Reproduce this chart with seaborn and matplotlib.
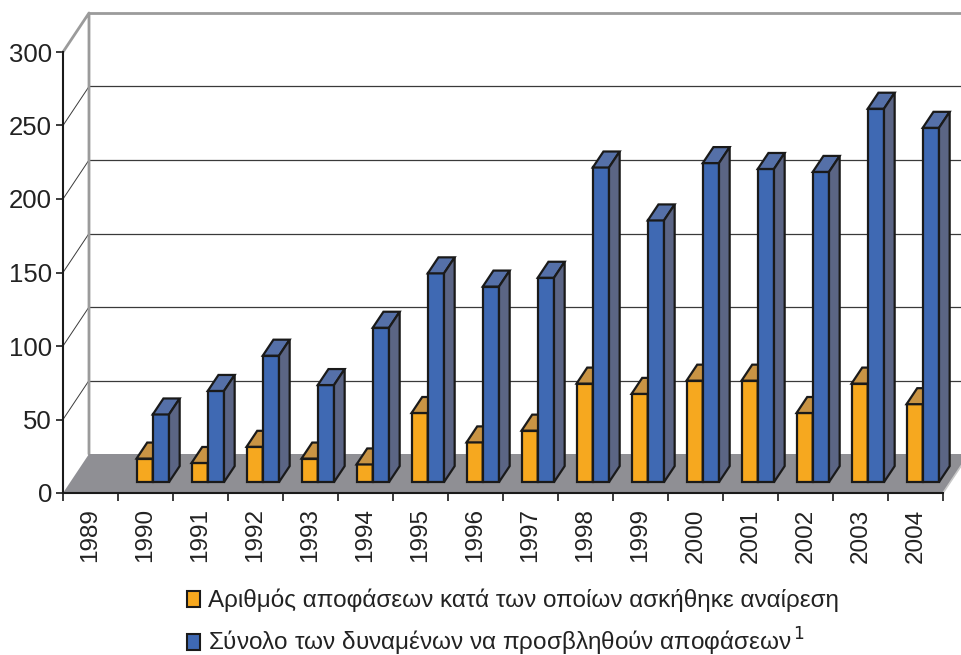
import numpy as np
import pandas as pd
import matplotlib
matplotlib.use('Agg')
import matplotlib.pyplot as plt
import seaborn as sns
from matplotlib.patches import Polygon

# Data (1989 has no bars)
years = [str(y) for y in range(1989, 2005)]
annulled = [np.nan, 16, 13, 24, 16, 12, 47, 27, 35, 67, 60, 69, 69, 47, 67, 53]
total = [np.nan, 46, 62, 86, 66, 105, 142, 133, 139, 214, 178, 217, 213, 211, 254, 241]
label_a = 'Αριθμός αποφάσεων κατά των οποίων ασκήθηκε αναίρεση'
label_b = 'Σύνολο των δυναμένων να προσβληθούν αποφάσεων$^{\\,1}$'

df = pd.DataFrame({
    'year': years * 2,
    'value': annulled + total,
    'series': [label_a] * len(years) + [label_b] * len(years),
})

sns.set_style('white')
plt.rcParams['font.family'] = ['Liberation Sans', 'DejaVu Sans']

front_col = {label_a: '#f6a81f', label_b: '#3f69b3'}
top_col = {label_a: '#c99444', label_b: '#5570a8'}
side_col = {label_a: '#b07a20', label_b: '#5b6585'}

fig = plt.figure(figsize=(9.61, 6.55), dpi=100)
W, H = 961, 655
ax = fig.add_axes([63 / W, (H - 493) / H, 880 / W, 441 / H])

sns.barplot(data=df, x='year', y='value', hue='series', order=years,
            hue_order=[label_a, label_b], palette=front_col, width=0.59,
            edgecolor='#1a1a1a', linewidth=1.6, saturation=1, ax=ax)

ax.set_xlim(-0.5, len(years) - 0.5)
ax.set_ylim(0, 300)

# pixel -> data conversion for the fake 3D depth
px_x = 880 / len(years)
px_y = 441 / 300
depth_dx, depth_dy = 26 / px_x, 39 / px_y   # full floor depth
f0, f1 = 0.28, 0.41                          # bar position / depth

# floor
n = len(years)
floor = Polygon([(-0.5, 0), (n - 0.5, 0), (n - 0.5 + depth_dx, depth_dy),
                 (-0.5 + depth_dx, depth_dy)], closed=True,
                facecolor='#8f8f94', edgecolor='none', zorder=1, clip_on=False)
ax.add_patch(floor)
ax.plot([n - 0.5, n - 0.5 + depth_dx], [0, depth_dy], color='#c8c8c8',
        lw=1.2, zorder=1, clip_on=False)

# back wall and side wall grid
bx0, bx1 = -0.5 + depth_dx, n - 0.5 + depth_dx + 1
for v in range(50, 300, 50):
    ax.plot([bx0, bx1], [v + depth_dy, v + depth_dy], color='#3a3a3a',
            lw=0.9, zorder=0.5, clip_on=False)
    ax.plot([-0.5, bx0], [v, v + depth_dy], color='#3a3a3a', lw=0.7,
            zorder=0.5, clip_on=False)
ax.plot([-0.5, bx0, bx0], [300, 300 + depth_dy, depth_dy], color='#9b9b9b',
        lw=2, zorder=0.6, clip_on=False)
ax.plot([bx0, bx1], [300 + depth_dy, 300 + depth_dy], color='#9b9b9b',
        lw=2, zorder=0.6, clip_on=False)

# turn the flat bars into boxes
bdx, bdy = f1 * depth_dx, f1 * depth_dy
for k, (lab, container) in enumerate(zip([label_a, label_b], ax.containers)):
    z = 3 + k
    for p in container:
        h = p.get_height()
        if not np.isfinite(h) or h <= 0:
            p.set_visible(False)
            continue
        x0 = p.get_x() + f0 * depth_dx
        y0 = f0 * depth_dy
        w = p.get_width()
        p.set_x(x0)
        p.set_y(y0)
        p.set_zorder(z)
        p.set_clip_on(False)
        top = y0 + h
        ax.add_patch(Polygon([(x0, top), (x0 + w, top), (x0 + w + bdx, top + bdy),
                              (x0 + bdx, top + bdy)], closed=True,
                             facecolor=top_col[lab], edgecolor='#1a1a1a',
                             lw=1.6, zorder=z, clip_on=False))
        ax.add_patch(Polygon([(x0 + w, y0), (x0 + w, top), (x0 + w + bdx, top + bdy),
                              (x0 + w + bdx, y0 + bdy)], closed=True,
                             facecolor=side_col[lab], edgecolor='#1a1a1a',
                             lw=1.6, zorder=z, clip_on=False))

# axes, ticks
for s in ['top', 'right']:
    ax.spines[s].set_visible(False)
for s in ['left', 'bottom']:
    ax.spines[s].set_color('#1a1a1a')
    ax.spines[s].set_linewidth(1.5)
    ax.spines[s].set_zorder(2)
ax.set_yticks(range(0, 301, 50))
ax.tick_params(axis='y', length=5, width=1.2, color='#1a1a1a', pad=3,
               labelsize=18.5, labelcolor='#222222', left=True)
ax.set_xticks(np.arange(-0.5, n, 1.0), minor=True)
ax.tick_params(axis='x', which='minor', length=6, width=1.2, color='#1a1a1a',
               bottom=True)
ax.tick_params(axis='x', which='major', length=0, pad=11, labelsize=17.5,
               labelcolor='#222222', labelrotation=90)
ax.set_xlabel('')
ax.set_ylabel('')

# legend
ax.get_legend().remove()
handles = [plt.Rectangle((0, 0), 1, 1, facecolor=front_col[l], edgecolor='#1a1a1a',
                         lw=1.5) for l in [label_a, label_b]]
fig.legend(handles, [label_a, label_b], loc='upper left',
           bbox_to_anchor=(187 / W, 1 - 589 / H), frameon=False, fontsize=17.5,
           handlelength=0.55, handleheight=0.6, handletextpad=0.3,
           labelspacing=0.55, borderpad=0, borderaxespad=0, labelcolor='#222222')

fig.savefig('out.png', dpi=100)
